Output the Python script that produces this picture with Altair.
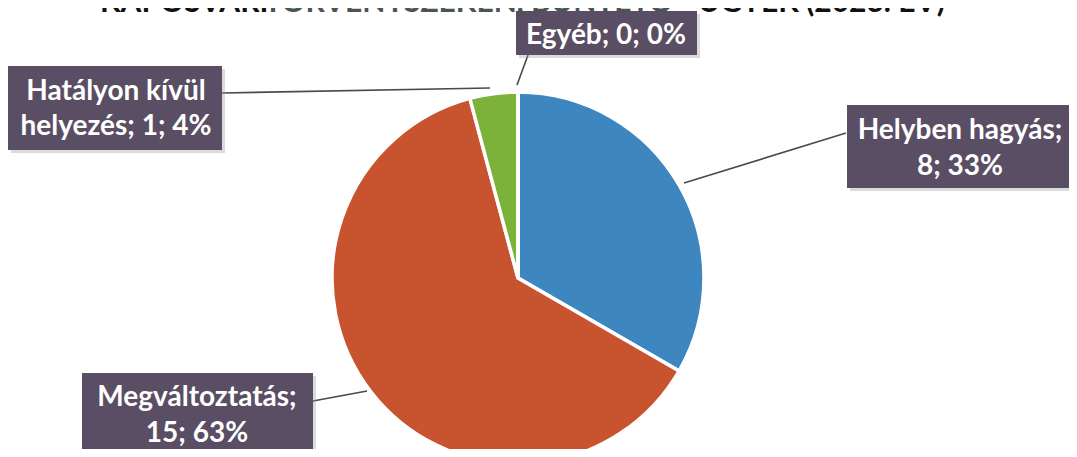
import textwrap
import altair as alt
import pandas as pd

# ---- data ----
categories = ["Helyben hagyás", "Megváltoztatás", "Hatályon kívül helyezés", "Egyéb"]
values = [8, 15, 1, 0]
colors = ["#3E86BF", "#C8542F", "#7DB23A", "#8064A2"]
title_parts = ["KAPOSVÁRI", "TÖRVÉNYSZÉKEN, BÜNTETŐ", "ÜGYEK (2023. ÉV)"]

total = sum(values)
pcts = [int(v * 100 / total + 0.5) for v in values]
labels = [f"{c}; {v}; {p}%" for c, v, p in zip(categories, values, pcts)]

# ---- layout (page pixel coords; page has 8px margin) ----
M = 8
W, H = 1077 - 2 * M, 457 - 2 * M
CX, CY, R = 518 - M, 278 - M, 186

box_layout = {
    "Helyben hagyás": dict(x1=847, x2=1074, y1=105, y2=188, cx=960, base=[139, 175],
                           line=[(846, 133), (684, 183)]),
    "Megváltoztatás": dict(x1=82, x2=313, y1=373, y2=470, cx=197, base=[406, 442],
                           line=[(313, 401), (367, 391)]),
    "Hatályon kívül helyezés": dict(x1=8, x2=222, y1=66, y2=150, cx=116, base=[100, 135],
                                    line=[(222, 93), (490, 88)]),
    "Egyéb": dict(x1=516, x2=697, y1=11, y2=55, cx=606, base=[44],
                  line=[(528, 55), (517, 85)]),
}

pie_df = pd.DataFrame({"cat": categories, "value": values, "order": list(range(len(values)))})

box_rows, text_rows, line_rows = [], [], []
for cat, lab in zip(categories, labels):
    L = box_layout[cat]
    box_rows.append(dict(cat=cat, x1=L["x1"] - M, x2=L["x2"] - M, y1=L["y1"] - M, y2=L["y2"] - M))
    for line, b in zip(textwrap.wrap(lab, 16), L["base"]):
        text_rows.append(dict(t=line, x=L["cx"] - M, y=b - M))
    (a, b2) = L["line"]
    line_rows.append(dict(x1=a[0] - M, y1=a[1] - M, x2=b2[0] - M, y2=b2[1] - M))

box_df = pd.DataFrame(box_rows)
text_df = pd.DataFrame(text_rows)
line_df = pd.DataFrame(line_rows)
shadow_df = box_df.assign(x1=box_df.x1 + 3, x2=box_df.x2 + 3, y1=box_df.y1 + 3, y2=box_df.y2 + 3)

title_df = pd.DataFrame({
    "t": title_parts,
    "x": [100 - M, 264 - M, 698 - M],
    "y": [12 - M] * 3,
    "c": ["#111111", "#4b5454", "#111111"],
})

FONT = "Lato"

pie = alt.Chart(pie_df).mark_arc(outerRadius=R, stroke="white", strokeWidth=3.5).encode(
    theta=alt.Theta("value:Q", stack=True),
    color=alt.Color("cat:N", scale=alt.Scale(domain=categories, range=colors), legend=None),
    order=alt.Order("order:Q"),
    x=alt.value(CX),
    y=alt.value(CY),
)

leaders = alt.Chart(line_df).mark_rule(color="#4a4a4a", strokeWidth=1.6).encode(
    x=alt.X("x1:Q", scale=None), x2="x2:Q",
    y=alt.Y("y1:Q", scale=None), y2="y2:Q",
)

shadows = alt.Chart(shadow_df).mark_rect(color="#999999", opacity=0.35).encode(
    x=alt.X("x1:Q", scale=None), x2="x2:Q",
    y=alt.Y("y1:Q", scale=None), y2="y2:Q",
)

boxes = alt.Chart(box_df).mark_rect(color="#594e63").encode(
    x=alt.X("x1:Q", scale=None), x2="x2:Q",
    y=alt.Y("y1:Q", scale=None), y2="y2:Q",
)

texts = alt.Chart(text_df).mark_text(
    color="white", font=FONT, fontSize=28, fontWeight="bold", align="center", baseline="alphabetic"
).encode(
    x=alt.X("x:Q", scale=None), y=alt.Y("y:Q", scale=None), text="t:N"
)

title = alt.Chart(title_df).mark_text(
    font=FONT, fontSize=30, fontWeight="bold", align="left", baseline="alphabetic"
).encode(
    x=alt.X("x:Q", scale=None), y=alt.Y("y:Q", scale=None), text="t:N",
    color=alt.Color("c:N", scale=None),
)

chart = alt.layer(pie, leaders, shadows, boxes, texts, title).properties(
    width=W, height=H, padding=0,
    autosize=alt.AutoSizeParams(type="none"),
    background="white",
).configure_view(stroke=None)

chart.save("out.html", embed_options={"renderer": "svg", "actions": False})
